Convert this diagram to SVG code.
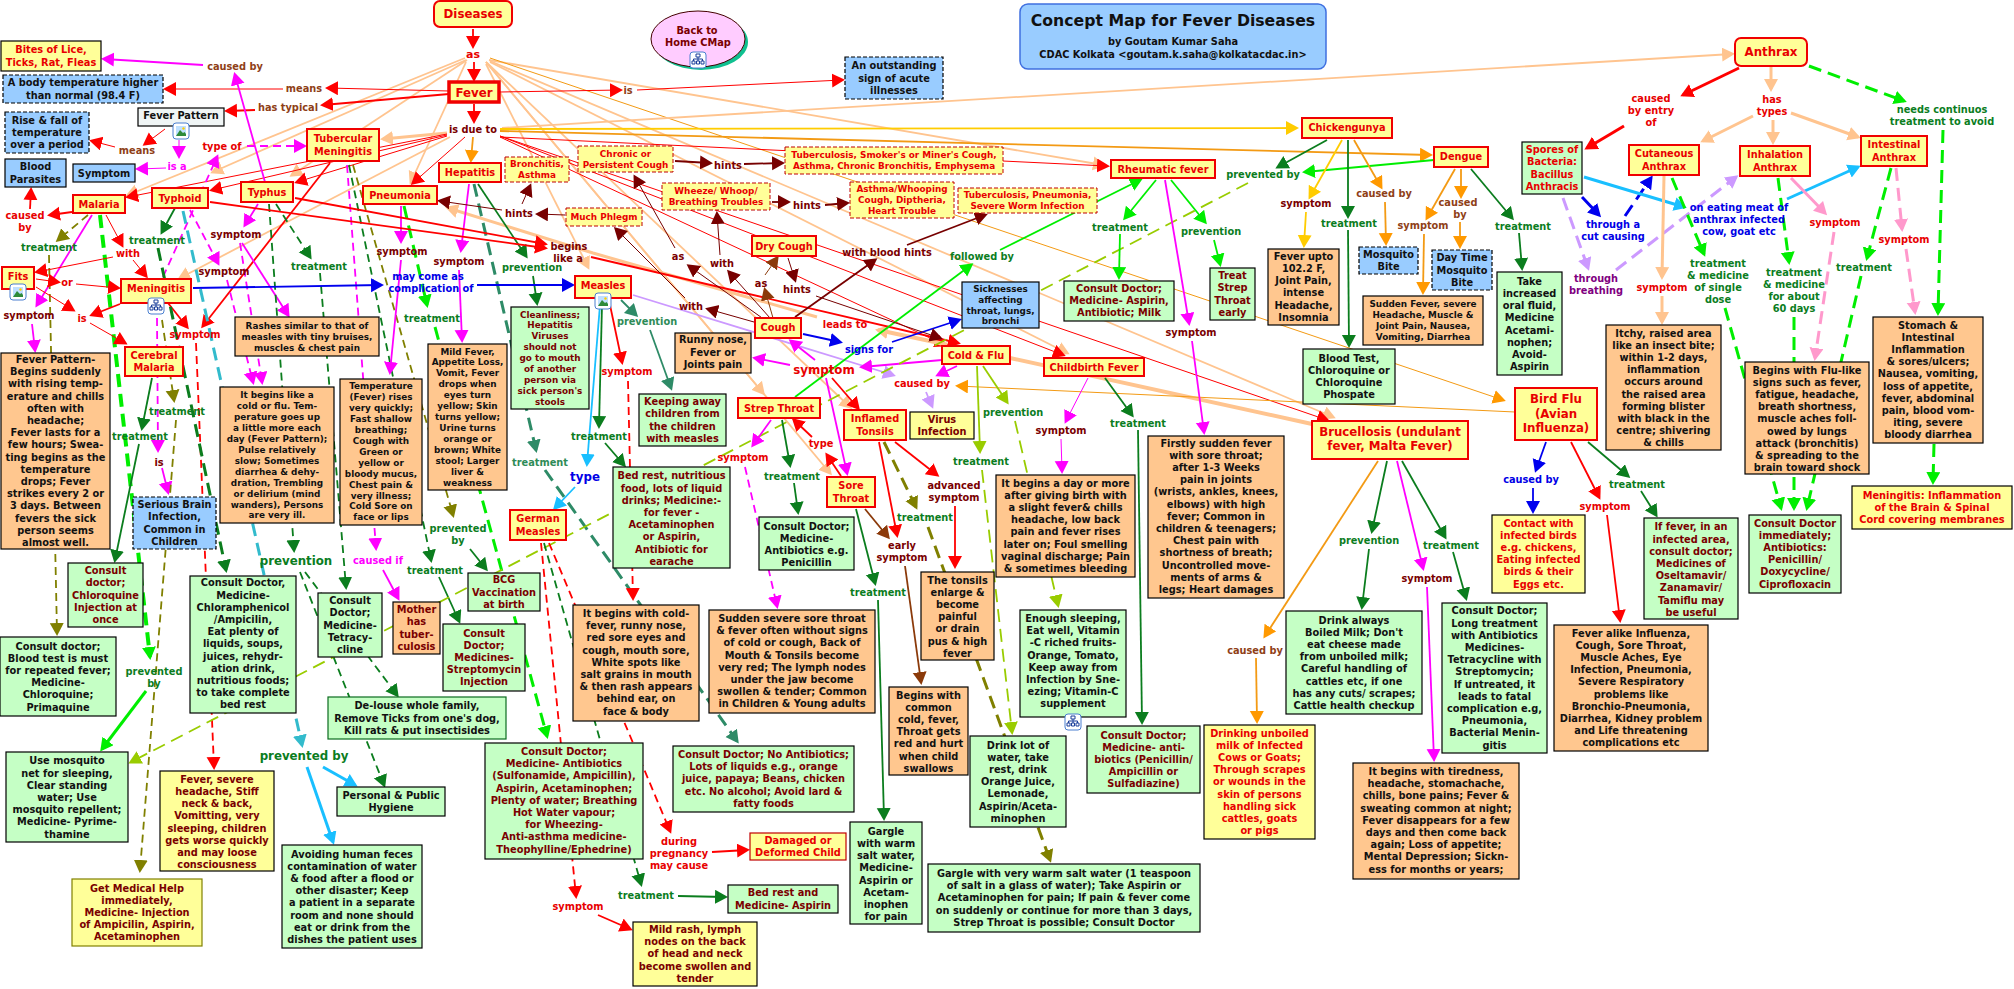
<svg xmlns="http://www.w3.org/2000/svg" width="2014" height="989" viewBox="0 0 2014 989">
<style>
text{font-family:"DejaVu Sans",Verdana,sans-serif;font-weight:bold;font-size:9.8px;text-anchor:middle;fill:#111}
.s{font-size:8.85px}.L{font-size:11.8px}
.k{fill:#111}.m{fill:#7a0000}.r{fill:#e80000}.g{fill:#0b7d1e}.br{fill:#8f3f17}.b{fill:#0000e6}.p{fill:#800080}.v{fill:#f0f}.sg{fill:#2e8b57}
rect{stroke:#000;stroke-width:1.2}
.O{fill:#ffc78f}.G{fill:#c5ffc5}.Y{fill:#ffff99}.B{fill:#99ccff}.dash{stroke-dasharray:4 2}
.C{fill:#ffff99;stroke:#f00000;stroke-width:2}.DR{fill:#ffff99;stroke:#c00000;stroke-width:1;stroke-dasharray:4 2}
#connectors path{fill:none}
.w1{stroke-width:1}.w2{stroke-width:1.8}.w3{stroke-width:3}.w4{stroke-width:4}.d{stroke-dasharray:13 7}.d2{stroke-dasharray:8 5}
.cr{stroke:#f00;marker-end:url(#mr)}.cv{stroke:#f0f;marker-end:url(#mv)}.cl{stroke:#0e0;marker-end:url(#ml)}.cg{stroke:#0b7d1e;marker-end:url(#mg)}
.cs{stroke:#2e8b67;marker-end:url(#ms)}.cp{stroke:#ffc48f;marker-end:url(#mp)}.co{stroke:#f39a14;marker-end:url(#mo)}.cy{stroke:#fc0;marker-end:url(#my)}
.cd{stroke:#700;marker-end:url(#md)}.cn{stroke:#8b3a0a;marker-end:url(#mn)}.cb{stroke:#00e;marker-end:url(#mb)}.cc{stroke:#19bfff;marker-end:url(#mc)}
.ct{stroke:#3bc;marker-end:url(#mt)}.cz{stroke:#808000;marker-end:url(#mz)}.cq{stroke:#9c0;marker-end:url(#mq)}.ci{stroke:#c9f;marker-end:url(#mi)}.ck{stroke:#f9c;marker-end:url(#mk)}
</style>
<defs>
<marker id="mr" markerUnits="userSpaceOnUse" markerWidth="16" markerHeight="16" refX="10" refY="7" orient="auto"><path d="M0 0L13 7L0 14z" fill="#f00"/></marker>
<marker id="mv" markerUnits="userSpaceOnUse" markerWidth="16" markerHeight="16" refX="10" refY="7" orient="auto"><path d="M0 0L13 7L0 14z" fill="#f0f"/></marker>
<marker id="ml" markerUnits="userSpaceOnUse" markerWidth="16" markerHeight="16" refX="10" refY="7" orient="auto"><path d="M0 0L13 7L0 14z" fill="#0e0"/></marker>
<marker id="mg" markerUnits="userSpaceOnUse" markerWidth="16" markerHeight="16" refX="10" refY="7" orient="auto"><path d="M0 0L13 7L0 14z" fill="#0b7d1e"/></marker>
<marker id="ms" markerUnits="userSpaceOnUse" markerWidth="16" markerHeight="16" refX="10" refY="7" orient="auto"><path d="M0 0L13 7L0 14z" fill="#2e8b67"/></marker>
<marker id="mp" markerUnits="userSpaceOnUse" markerWidth="16" markerHeight="16" refX="10" refY="7" orient="auto"><path d="M0 0L13 7L0 14z" fill="#ffc48f"/></marker>
<marker id="mo" markerUnits="userSpaceOnUse" markerWidth="16" markerHeight="16" refX="10" refY="7" orient="auto"><path d="M0 0L13 7L0 14z" fill="#f90"/></marker>
<marker id="my" markerUnits="userSpaceOnUse" markerWidth="16" markerHeight="16" refX="10" refY="7" orient="auto"><path d="M0 0L13 7L0 14z" fill="#fc0"/></marker>
<marker id="md" markerUnits="userSpaceOnUse" markerWidth="16" markerHeight="16" refX="10" refY="7" orient="auto"><path d="M0 0L13 7L0 14z" fill="#700"/></marker>
<marker id="mn" markerUnits="userSpaceOnUse" markerWidth="16" markerHeight="16" refX="10" refY="7" orient="auto"><path d="M0 0L13 7L0 14z" fill="#8b3a0a"/></marker>
<marker id="mb" markerUnits="userSpaceOnUse" markerWidth="16" markerHeight="16" refX="10" refY="7" orient="auto"><path d="M0 0L13 7L0 14z" fill="#00e"/></marker>
<marker id="mc" markerUnits="userSpaceOnUse" markerWidth="16" markerHeight="16" refX="10" refY="7" orient="auto"><path d="M0 0L13 7L0 14z" fill="#19bfff"/></marker>
<marker id="mt" markerUnits="userSpaceOnUse" markerWidth="16" markerHeight="16" refX="10" refY="7" orient="auto"><path d="M0 0L13 7L0 14z" fill="#3bc"/></marker>
<marker id="mz" markerUnits="userSpaceOnUse" markerWidth="16" markerHeight="16" refX="10" refY="7" orient="auto"><path d="M0 0L13 7L0 14z" fill="#808000"/></marker>
<marker id="mq" markerUnits="userSpaceOnUse" markerWidth="16" markerHeight="16" refX="10" refY="7" orient="auto"><path d="M0 0L13 7L0 14z" fill="#9c0"/></marker>
<marker id="mi" markerUnits="userSpaceOnUse" markerWidth="16" markerHeight="16" refX="10" refY="7" orient="auto"><path d="M0 0L13 7L0 14z" fill="#c9f"/></marker>
<marker id="mk" markerUnits="userSpaceOnUse" markerWidth="16" markerHeight="16" refX="10" refY="7" orient="auto"><path d="M0 0L13 7L0 14z" fill="#f9c"/></marker>
<g id="ii"><rect x="-8" y="-8" width="16" height="16" rx="3" fill="#fff" style="stroke:#4a7fd0;stroke-width:1"/><path d="M-5-5H5V5H-5z" fill="#bfe0ff"/><path d="M-5 5L-1-1L2 2L3.5 1L5 3V5z" fill="#2e8b3a"/><circle cx="2.5" cy="-2.5" r="1.2" fill="#fc0"/></g>
<g id="ic"><rect x="-8" y="-8" width="16" height="16" rx="3" fill="#fff" style="stroke:#4a7fd0;stroke-width:1"/><path d="M-2-6H2V-3H-2zM-6 1H-3V4H-6zM-1.500 1H1.500V4H-1.500zM3 1H6V4H3zM-4.500 1V-1H4.500V1M0-3V1" fill="none" stroke="#1b3f9a" stroke-width="1"/></g>
</defs>

<g id="connectors">
<path class="cp w2" d="M489 60L1103 165"/>
<path class="cp w2" d="M490 62L1067 353"/>
<path class="cp w2" d="M490 61L1333 417"/>
<path class="co w1" d="M490 58L1503 400"/>
<path class="cp w2" d="M486 64L588 267"/>
<path class="cp w2" d="M486 62L763 393"/>
<path class="cp w2" d="M486 62L830 473"/>
<path class="cp w2" d="M486 62L850 407"/>
<path class="cp w2" d="M465 58L128 195"/>
<path class="cp w2" d="M466 60L213 172"/>
<path class="cp w2" d="M467 60L292 175"/>
<path class="cp w2" d="M466 62L411 182"/>
<path class="cp w2" d="M502 128L1732 54"/>
<path class="cy w2" d="M500 129L1296 128"/>
<path class="co w2" d="M500 131L1430 155"/>
<path class="cp w3" d="M447 133L383 139"/>
<path class="cp w2" d="M450 137L180 278"/>
<path class="cr w1" d="M447 134L128 197"/>
<path class="cr w1" d="M447 135L212 190"/>
<path class="cr w1" d="M447 136L297 182"/>
<path class="cr w1" d="M465 137L413 183"/>
<path class="co w2" d="M473 137L471 160"/>
<path class="cr w1" d="M500 136L1327 420"/>
<path class="cr w1" d="M500 136L1063 355"/>
<path class="cr w1" d="M500 137L1107 166"/>
<path class="cr w1" d="M500 137L945 345"/>
<path class="cp w4" d="M1312 424L1010 358L878 330"/>
<path class="cp w3" d="M817 317L593 253L448 208"/>
<path class="co w1" d="M1515 412L958 386"/>
<path class="cr w2" d="M473 29L473 46"/>
<path class="cr w2" d="M474 62L474 79"/>
<path class="cr w1" d="M449 91L328 88"/>
<path class="cr w1" d="M283 89L166 89"/>
<path class="cr w2" d="M449 94L323 105"/>
<path class="cr w2" d="M255 110L227 111"/>
<path class="cr w1" d="M500 92L620 90"/>
<path class="cr w1" d="M637 90L842 80"/>
<path class="cr w2" d="M474 104L474 121"/>
<path class="cv w2" d="M265 182L235 75"/>
<path class="cv w2" d="M203 65L104 59"/>
<path class="cr w1" d="M165 129L145 144"/>
<path class="cr w1" d="M115 147L92 141"/>
<path class="cv w1" d="M179 140L179 156"/>
<path class="cv w1" d="M166 168L138 169"/>
<path class="cv w2 d2" d="M163 277L217 157"/>
<path class="cv w2 d2" d="M247 146L304 146"/>
<path class="cr w2" d="M72 212L50 215"/>
<path class="cr w2" d="M30 209L31 190"/>
<path class="cz w2 d2" d="M88 215L58 240"/>
<path class="cz w2 d2" d="M49 255L57 633"/>
<path class="cv w2" d="M92 215L37 305"/>
<path class="cv w2" d="M32 324L35 350"/>
<path class="cl w4 d" d="M100 215L150 657"/>
<path class="cl w3" d="M146 691L102 749"/>
<path class="cr w1" d="M106 215L122 245"/>
<path class="cr w1" d="M113 257L37 272"/>
<path class="cr w1" d="M133 260L146 276"/>
<path class="cr w1" d="M36 279L58 282"/>
<path class="cr w1" d="M76 284L118 288"/>
<path class="cr w1" d="M36 287L73 310"/>
<path class="cr w1" d="M90 323L125 343"/>
<path class="cr w2" d="M120 304L92 315"/>
<path class="cr w2" d="M168 303L187 327"/>
<path class="cr w2" d="M330 163L203 326"/>
<path class="cr w2 d2" d="M196 343L214 767"/>
<path class="cg w2" d="M175 208L162 232"/>
<path class="cg w3 d" d="M158 248L226 570"/>
<path class="ct w3 d" d="M183 211L302 745"/>
<path class="cc w3" d="M323 767L355 785"/>
<path class="cc w3" d="M307 767L333 842"/>
<path class="cv w2 d2" d="M157 318L158 450"/>
<path class="cv w2" d="M162 468L168 492"/>
<path class="cz w2 d2" d="M162 320L174 400"/>
<path class="cz w2 d2" d="M176 420L140 870"/>
<path class="cg w2" d="M152 378L142 428"/>
<path class="cg w2" d="M139 444L115 560"/>
<path class="cv w2 d2" d="M190 210L218 263"/>
<path class="cv w2 d2" d="M227 280L253 382"/>
<path class="cv w2" d="M258 204L245 225"/>
<path class="cv w2 d2" d="M240 243L262 382"/>
<path class="cv w2" d="M242 243L288 315"/>
<path class="cg w2 d2" d="M276 204L310 257"/>
<path class="cg w2 d2" d="M320 273L346 587"/>
<path class="cg w2 d2" d="M269 204L294 550"/>
<path class="cg w2 d2" d="M300 572L384 785"/>
<path class="cg w2 d2" d="M305 572L397 695"/>
<path class="cv w2 d2" d="M347 165L376 548"/>
<path class="cv w2" d="M383 570L398 598"/>
<path class="cg w2 d2" d="M349 165L431 560"/>
<path class="cg w2" d="M439 577L459 621"/>
<path class="cz w2 d2" d="M353 165L453 515"/>
<path class="cg w2" d="M470 549L486 569"/>
<path class="cv w2" d="M401 206L401 241"/>
<path class="cv w2" d="M401 260L390 372"/>
<path class="cl w3 d" d="M404 206L427 305"/>
<path class="cl w3 d" d="M435 327L547 736"/>
<path class="cv w2" d="M469 184L461 250"/>
<path class="cv w2" d="M459 270L462 340"/>
<path class="cs w3 d" d="M474 184L536 450"/>
<path class="cs w3 d" d="M545 470L737 741"/>
<path class="cg w2" d="M478 184L526 256"/>
<path class="cg w2" d="M533 276L537 303"/>
<path class="cb w2" d="M193 288L381 285"/>
<path class="cb w2" d="M477 285L572 285"/>
<path class="cr w2" d="M210 202L545 248"/>
<path class="cr w2" d="M295 198L545 244"/>
<path class="cr w2" d="M591 257L958 343"/>
<path class="cc w2" d="M600 305L587 464"/>
<path class="cc w2" d="M575 487L555 508"/>
<path class="cg w2" d="M602 305L599 426"/>
<path class="cg w2" d="M605 443L624 465"/>
<path class="cr w2" d="M610 305L622 362"/>
<path class="cr w2 d2" d="M628 381L633 598"/>
<path class="cs w2" d="M621 300L636 315"/>
<path class="cs w2" d="M650 330L671 388"/>
<path class="ci w2" d="M633 295L893 375"/>
<path class="ci w2" d="M926 392L932 406"/>
<path class="cv w2" d="M957 366L938 375"/>
<path class="cv w2" d="M942 360L862 367"/>
<path class="cv w2" d="M790 365L755 358"/>
<path class="cv w2" d="M815 360L791 341"/>
<path class="cv w2" d="M826 378L847 473"/>
<path class="cr w2" d="M832 378L858 408"/>
<path class="cb w2" d="M803 334L840 342"/>
<path class="cb w2" d="M892 342L959 320"/>
<path class="cq w2 d" d="M1248 183L131 762"/>
<path class="cg w2" d="M1327 140L1278 167"/>
<path class="cl w2" d="M1434 160L1305 172"/>
<path class="cy w2" d="M1342 140L1310 197"/>
<path class="cy w2" d="M1306 212L1304 245"/>
<path class="cg w2" d="M1348 140L1348 216"/>
<path class="cg w2" d="M1348 230L1349 345"/>
<path class="co w2" d="M1354 140L1381 187"/>
<path class="co w2" d="M1385 202L1386 243"/>
<path class="co w2" d="M1455 169L1427 218"/>
<path class="co w2" d="M1424 234L1423 292"/>
<path class="co w2" d="M1461 169L1461 196"/>
<path class="co w2" d="M1460 222L1460 246"/>
<path class="cg w2" d="M1471 169L1512 218"/>
<path class="cg w2" d="M1519 233L1522 268"/>
<path class="cl w2" d="M1156 180L1125 218"/>
<path class="cl w2" d="M1120 234L1119 277"/>
<path class="cl w2" d="M1171 180L1205 222"/>
<path class="cl w2" d="M1214 240L1220 264"/>
<path class="cv w2" d="M1165 180L1189 323"/>
<path class="cv w2" d="M1192 341L1204 432"/>
<path class="cl w2" d="M1000 250L1140 180"/>
<path class="cl w2" d="M795 397L971 265"/>
<path class="cv w1" d="M1088 378L1066 421"/>
<path class="cv w1" d="M1061 439L1062 471"/>
<path class="cg w2" d="M1105 378L1132 415"/>
<path class="cg w2" d="M1138 430L1142 722"/>
<path class="cq w2" d="M977 366L980 451"/>
<path class="cq w2 d" d="M982 470L1012 732"/>
<path class="cq w2" d="M983 366L1007 402"/>
<path class="cq w2 d" d="M1015 421L1058 605"/>
<path class="cd w1" d="M765 320L689 266"/>
<path class="cd w1" d="M675 248L635 177"/>
<path class="cd w1" d="M770 318L729 272"/>
<path class="cd w1" d="M720 255L717 214"/>
<path class="cn w1" d="M773 318L765 290"/>
<path class="cn w1" d="M765 275L777 258"/>
<path class="cd w1" d="M754 322L708 309"/>
<path class="cd w1" d="M685 298L616 229"/>
<path class="cd w2" d="M795 317L875 260"/>
<path class="cd w2" d="M907 245L985 215"/>
<path class="cd w1" d="M788 258L795 280"/>
<path class="cd w1" d="M816 296L940 338"/>
<path class="cd w2" d="M675 161L710 163"/>
<path class="cd w2" d="M744 164L782 163"/>
<path class="cd w2" d="M772 202L788 202"/>
<path class="cd w2" d="M825 205L847 203"/>
<path class="cd w1" d="M565 215L538 214"/>
<path class="cd w1" d="M522 204L530 186"/>
<path class="cd w1" d="M502 210L440 201"/>
<path class="cv w2" d="M771 420L753 445"/>
<path class="cv w2 d2" d="M745 467L777 606"/>
<path class="cg w2" d="M782 420L790 465"/>
<path class="cg w2" d="M794 483L798 512"/>
<path class="cr w2" d="M841 476L827 455"/>
<path class="cr w2" d="M812 437L794 420"/>
<path class="cg w2" d="M856 509L875 583"/>
<path class="cg w2" d="M878 600L884 818"/>
<path class="cn w2" d="M865 509L888 537"/>
<path class="cn w2" d="M905 566L921 682"/>
<path class="cr w2" d="M879 442L897 535"/>
<path class="cz w3 d" d="M884 442L916 507"/>
<path class="cz w3 d" d="M928 527L1050 860"/>
<path class="cr w2" d="M895 442L937 475"/>
<path class="cr w2" d="M955 506L955 566"/>
<path class="cr w2 d2" d="M541 543L576 896"/>
<path class="cr w2" d="M598 915L630 929"/>
<path class="cg w2 d2" d="M544 543L641 884"/>
<path class="cg w2" d="M678 896L725 897"/>
<path class="cr w2 d2" d="M549 543L670 831"/>
<path class="cr w2" d="M712 852L747 850"/>
<path class="cb w2" d="M1546 442L1536 470"/>
<path class="cb w2" d="M1533 488L1533 511"/>
<path class="cr w2" d="M1571 442L1599 497"/>
<path class="cr w2" d="M1607 515L1620 620"/>
<path class="cg w2" d="M1588 442L1628 476"/>
<path class="cg w2" d="M1641 491L1656 515"/>
<path class="co w2" d="M1378 461L1265 636"/>
<path class="co w2" d="M1256 658L1257 721"/>
<path class="cg w2" d="M1387 461L1372 531"/>
<path class="cg w2" d="M1369 549L1362 607"/>
<path class="cv w2" d="M1397 461L1423 568"/>
<path class="cv w2" d="M1427 587L1434 759"/>
<path class="cg w2" d="M1402 461L1445 537"/>
<path class="cg w2" d="M1453 552L1466 598"/>
<path class="cr w3" d="M1739 68L1683 95"/>
<path class="cr w3" d="M1624 126L1587 148"/>
<path class="cp w3" d="M1771 67L1771 89"/>
<path class="cp w3" d="M1753 116L1703 141"/>
<path class="cp w3" d="M1773 120L1773 142"/>
<path class="cp w3" d="M1791 113L1858 137"/>
<path class="cl w3 d" d="M1809 66L1904 101"/>
<path class="cl w3 d" d="M1943 130L1938 313"/>
<path class="cb w3" d="M1582 197L1599 215"/>
<path class="cb w3 d" d="M1625 216L1651 178"/>
<path class="ci w3 d" d="M1563 198L1588 268"/>
<path class="ci w3 d" d="M1616 270L1736 177"/>
<path class="cc w3" d="M1584 177L1684 207"/>
<path class="cc w3" d="M1787 199L1858 167"/>
<path class="cp w3" d="M1664 176L1662 277"/>
<path class="cp w3" d="M1662 296L1662 322"/>
<path class="cl w3 d" d="M1672 178L1704 254"/>
<path class="cl w3 d" d="M1725 308L1781 508"/>
<path class="cl w3 d" d="M1778 178L1789 262"/>
<path class="cl w3 d" d="M1794 317L1794 508"/>
<path class="ck w3" d="M1791 178L1825 213"/>
<path class="ck w3 d" d="M1834 232L1815 358"/>
<path class="cl w3 d" d="M1891 168L1867 258"/>
<path class="cl w3 d" d="M1861 276L1807 508"/>
<path class="ck w3 d" d="M1896 168L1902 229"/>
<path class="ck w3 d" d="M1906 249L1915 312"/>
<path class="cl w3 d" d="M1934 444L1933 482"/>
</g>

<g id="title"><rect x="1020" y="4" width="306" height="65" rx="8" class="B" style="stroke:#3f6fe0;stroke-width:1.5"/><text x="1173" y="25.500" style="font-size:15.7px">Concept Map for Fever Diseases</text><text x="1173" y="44.500">by  Goutam Kumar Saha</text><text x="1173" y="58">CDAC Kolkata &lt;goutam.k.saha@kolkatacdac.in&gt;</text></g>
<g id="home"><ellipse cx="701" cy="42" rx="47" ry="28" fill="#10c090"/><ellipse cx="698" cy="39" rx="47" ry="28" fill="#ffccff" stroke="#400" stroke-width="1"/><text class="m" x="697" y="33.500">Back to<tspan x="698" dy="12.2">Home CMap</tspan></text><use href="#ic" x="698" y="60"/></g>

<g id="diseases"><rect class="C" x="434" y="1" width="78" height="26" rx="6"/><text class="L r" x="473" y="18">Diseases</text></g>
<g id="fever"><rect class="C" style="stroke-width:3.5" x="449" y="82" width="50" height="20"/><text class="L r" x="474" y="96.500">Fever</text></g>
<g id="bites"><rect class="Y" x="1" y="41" width="100" height="30"/><text class="r" x="51" y="53.400">Bites of Lice,<tspan x="51" dy="12.2">Ticks, Rat, Fleas</tspan></text></g>
<g id="bodytemp"><rect class="B dash" x="3" y="75" width="160" height="28"/><text x="83" y="86.400">A body temperature higher<tspan x="83" dy="12.2">than normal (98.4 F)</tspan></text></g>
<g id="risefall"><rect class="B dash" x="5" y="112" width="84" height="41"/><text x="47" y="123.800">Rise &amp; fall of<tspan x="47" dy="12.2">temperature</tspan><tspan x="47" dy="12.2">over a period</tspan></text></g>
<g id="feverpattern"><rect x="138" y="108" width="86" height="18" fill="#f0f5f5"/><text x="181" y="118.500">Fever Pattern</text><use href="#ii" x="181" y="131"/></g>
<g id="bloodparasites"><rect class="B" x="5" y="159" width="61" height="28"/><text x="35.500" y="170.400">Blood<tspan x="35.500" dy="12.2">Parasites</tspan></text></g>
<g id="symptomc"><rect class="B" x="73" y="164" width="62" height="18"/><text x="104" y="176.500">Symptom</text></g>
<g id="outstanding"><rect class="B dash" x="845" y="57" width="98" height="42"/><text x="894" y="69.300">An outstanding<tspan x="894" dy="12.2">sign of acute</tspan><tspan x="894" dy="12.2">illnesses</tspan></text></g>
<g id="tubercular"><rect class="C" x="307" y="129" width="72" height="32"/><text class="r" x="343" y="142.400">Tubercular<tspan x="343" dy="12.2">Meningitis</tspan></text></g>
<g id="hepatitis"><rect class="C" x="439" y="163" width="62" height="19"/><text class="r" x="470" y="176">Hepatitis</text></g>
<g id="malaria"><rect class="C" x="73" y="195" width="52" height="18"/><text class="r" x="99" y="207.500">Malaria</text></g>
<g id="typhoid"><rect class="C" x="152" y="188" width="56" height="20"/><text class="r" x="180" y="201.500">Typhoid</text></g>
<g id="typhus"><rect class="C" x="241" y="182" width="52" height="20"/><text class="r" x="267" y="195.500">Typhus</text></g>
<g id="pneumonia"><rect class="C" x="363" y="186" width="74" height="18"/><text class="r" x="400" y="198.500">Pneumonia</text></g>
<g id="fits"><rect class="C" x="2" y="267" width="32" height="22"/><text class="r" x="18" y="279.500">Fits</text><use href="#ii" x="18" y="292"/></g>
<g id="meningitis"><rect class="C" x="121" y="279" width="70" height="24"/><text class="r" x="156" y="291.500">Meningitis</text><use href="#ic" x="156" y="306"/></g>
<g id="cerebral"><rect class="C" x="125" y="347" width="58" height="29"/><text class="r" x="154" y="358.900">Cerebral<tspan x="154" dy="12.2">Malaria</tspan></text></g>
<g id="measles"><rect class="C" x="575" y="276" width="56" height="22"/><text class="r" x="603" y="288.500">Measles</text><use href="#ii" x="603" y="301"/></g>
<g id="cough"><rect class="C" x="755" y="318" width="46" height="20"/><text class="r" x="778" y="330.500">Cough</text></g>
<g id="drycough"><rect class="C" x="752" y="236" width="64" height="20"/><text class="r" x="784" y="249.500">Dry Cough</text></g>
<g id="strep"><rect class="C" x="738" y="398" width="82" height="20"/><text class="r" x="779" y="411.500">Strep Throat</text></g>
<g id="inflamed"><rect class="C" x="844" y="410" width="62" height="30"/><text class="r" x="875" y="422.400">Inflamed<tspan x="875" dy="12.2">Tonsils</tspan></text></g>
<g id="coldflu"><rect class="C" x="942" y="346" width="68" height="18"/><text class="r" x="976" y="358.500">Cold &amp; Flu</text></g>
<g id="sore"><rect class="C" x="827" y="477" width="48" height="30"/><text class="r" x="851" y="489.400">Sore<tspan x="851" dy="12.2">Throat</tspan></text></g>
<g id="german"><rect class="C" x="510" y="510" width="56" height="30"/><text class="r" x="538" y="522.400">German<tspan x="538" dy="12.2">Measles</tspan></text></g>
<g id="childbirth"><rect class="C" x="1044" y="358" width="100" height="18"/><text class="r" x="1094" y="370.500">Childbirth Fever</text></g>
<g id="rheumatic"><rect class="C" x="1111" y="160" width="104" height="18"/><text class="r" x="1163" y="172.500">Rheumatic fever</text></g>
<g id="chickengunya"><rect class="C" x="1302" y="118" width="90" height="20"/><text class="r" x="1347" y="130.500">Chickengunya</text></g>
<g id="dengue"><rect class="C" x="1434" y="147" width="54" height="20"/><text class="r" x="1461" y="159.500">Dengue</text></g>
<g id="brucellosis"><rect class="C" x="1312" y="421" width="156" height="38"/><text class="L r" x="1390" y="435.500">Brucellosis (undulant<tspan x="1390" dy="14.6">fever, Malta Fever)</tspan></text></g>
<g id="birdflu"><rect class="C" x="1515" y="388" width="82" height="52"/><text class="L r" x="1556" y="403">Bird Flu<tspan x="1556" dy="14.6">(Avian</tspan><tspan x="1556" dy="14.6">Influenza)</tspan></text></g>
<g id="anthrax"><rect class="C" x="1735" y="38" width="72" height="28" rx="6"/><text class="L r" x="1771" y="56">Anthrax</text></g>
<g id="cutaneous"><rect class="C" x="1629" y="145" width="70" height="30"/><text class="r" x="1664" y="157.400">Cutaneous<tspan x="1664" dy="12.2">Anthrax</tspan></text></g>
<g id="inhalation"><rect class="C" x="1740" y="146" width="70" height="30"/><text class="r" x="1775" y="158.400">Inhalation<tspan x="1775" dy="12.2">Anthrax</tspan></text></g>
<g id="intestinal"><rect class="C" x="1861" y="136" width="66" height="30"/><text class="r" x="1894" y="148.400">Intestinal<tspan x="1894" dy="12.2">Anthrax</tspan></text></g>

<g id="bronchitis"><rect class="DR" x="505" y="157" width="64" height="25"/><text class="s r" x="537" y="167.200">Bronchitis,<tspan x="537" dy="10.95">Asthma</tspan></text></g>
<g id="chronic"><rect class="DR" x="578" y="146" width="95" height="26"/><text class="s r" x="625.500" y="156.700">Chronic or<tspan x="625.500" dy="10.95">Persistent Cough</tspan></text></g>
<g id="tbsmoker"><rect class="DR" x="785" y="147" width="218" height="27"/><text class="s r" x="894" y="158.200">Tuberculosis, Smoker's or Miner's Cough,<tspan x="894" dy="10.95">Asthma, Chronic Bronchitis, Emphysema</tspan></text></g>
<g id="wheeze"><rect class="DR" x="662" y="183" width="108" height="27"/><text class="s r" x="716" y="194.200">Wheeze/ Whoop/<tspan x="716" dy="10.95">Breathing Troubles</tspan></text></g>
<g id="asthma"><rect class="DR" x="850" y="182" width="104" height="36"/><text class="s r" x="902" y="192.300">Asthma/Whooping<tspan x="902" dy="10.95">Cough, Diptheria,</tspan><tspan x="902" dy="10.95">Heart Trouble</tspan></text></g>
<g id="tbpneu"><rect class="DR" x="958" y="188" width="139" height="25"/><text class="s r" x="1027.500" y="198.200">Tuberculosis, Pneumonia,<tspan x="1027.500" dy="10.95">Severe Worm Infection</tspan></text></g>
<g id="phlegm"><rect class="DR" x="566" y="208" width="76" height="18"/><text class="s r" x="604" y="220.200">Much Phlegm</text></g>

<g id="sickness"><rect class="B" x="962" y="282" width="77" height="46"/><text class="s" x="1000.500" y="291.600">Sicknesses<tspan x="1000.500" dy="10.95">affecting</tspan><tspan x="1000.500" dy="10.95">throat, lungs,</tspan><tspan x="1000.500" dy="10.95">bronchi</tspan></text></g>
<g id="mosquito"><rect class="B dash" x="1359" y="247" width="59" height="27"/><text x="1388.500" y="257.900">Mosquito<tspan x="1388.500" dy="12.2">Bite</tspan></text></g>
<g id="daytime"><rect class="B dash" x="1432" y="250" width="60" height="40"/><text x="1462" y="261.300">Day Time<tspan x="1462" dy="12.2">Mosquito</tspan><tspan x="1462" dy="12.2">Bite</tspan></text></g>
<g id="serious"><rect class="B dash" x="133" y="497" width="83" height="52"/><text x="174.500" y="508.200">Serious Brain<tspan x="174.500" dy="12.2">Infection,</tspan><tspan x="174.500" dy="12.2">Common in</tspan><tspan x="174.500" dy="12.2">Children</tspan></text></g>

<g id="feverpatternbox"><rect class="O" x="1" y="353" width="109" height="196"/><text x="55.500" y="363">Fever Pattern-<tspan x="55.500" dy="12.2">Begins suddenly</tspan><tspan x="55.500" dy="12.2">with rising temp-</tspan><tspan x="55.500" dy="12.2">erature and chills</tspan><tspan x="55.500" dy="12.2">often with</tspan><tspan x="55.500" dy="12.2">headache;</tspan><tspan x="55.500" dy="12.2">Fever lasts for a</tspan><tspan x="55.500" dy="12.2">few hours; Swea-</tspan><tspan x="55.500" dy="12.2">ting begins as the</tspan><tspan x="55.500" dy="12.2">temperature</tspan><tspan x="55.500" dy="12.2">drops; Fever</tspan><tspan x="55.500" dy="12.2">strikes every 2 or</tspan><tspan x="55.500" dy="12.2">3 days. Between</tspan><tspan x="55.500" dy="12.2">fevers the sick</tspan><tspan x="55.500" dy="12.2">person seems</tspan><tspan x="55.500" dy="12.2">almost well.</tspan></text></g>
<g id="rashes"><rect class="O" x="235" y="317" width="144" height="39"/><text class="s" x="307" y="329">Rashes similar to that of<tspan x="307" dy="10.95">measles with tiny bruises,</tspan><tspan x="307" dy="10.95">muscles &amp; chest pain</tspan></text></g>
<g id="coldlike"><rect class="O" x="220" y="387" width="114" height="136"/><text class="s" x="277" y="398">It begins like a<tspan x="277" dy="10.95">cold or flu. Tem-</tspan><tspan x="277" dy="10.95">perature goes up</tspan><tspan x="277" dy="10.95">a little more each</tspan><tspan x="277" dy="10.95">day (Fever Pattern);</tspan><tspan x="277" dy="10.95">Pulse relatively</tspan><tspan x="277" dy="10.95">slow; Sometimes</tspan><tspan x="277" dy="10.95">diarrhea &amp; dehy-</tspan><tspan x="277" dy="10.95">dration, Trembling</tspan><tspan x="277" dy="10.95">or delirium (mind</tspan><tspan x="277" dy="10.95">wanders), Persons</tspan><tspan x="277" dy="10.95">are very ill.</tspan></text></g>
<g id="temperature"><rect class="O" x="340" y="379" width="82" height="146"/><text class="s" x="381" y="389">Temperature<tspan x="381" dy="10.95">(Fever) rises</tspan><tspan x="381" dy="10.95">very quickly;</tspan><tspan x="381" dy="10.95">Fast shallow</tspan><tspan x="381" dy="10.95">breathing;</tspan><tspan x="381" dy="10.95">Cough with</tspan><tspan x="381" dy="10.95">Green or</tspan><tspan x="381" dy="10.95">yellow or</tspan><tspan x="381" dy="10.95">bloody mucus,</tspan><tspan x="381" dy="10.95">Chest pain &amp;</tspan><tspan x="381" dy="10.95">very illness;</tspan><tspan x="381" dy="10.95">Cold Sore on</tspan><tspan x="381" dy="10.95">face or lips</tspan></text></g>
<g id="mildfever"><rect class="O" x="428" y="344" width="79" height="146"/><text class="s" x="467.500" y="354.500">Mild Fever,<tspan x="467.500" dy="10.95">Appetite Loss,</tspan><tspan x="467.500" dy="10.95">Vomit, Fever</tspan><tspan x="467.500" dy="10.95">drops when</tspan><tspan x="467.500" dy="10.95">eyes turn</tspan><tspan x="467.500" dy="10.95">yellow; Skin</tspan><tspan x="467.500" dy="10.95">turns yellow;</tspan><tspan x="467.500" dy="10.95">Urine turns</tspan><tspan x="467.500" dy="10.95">orange or</tspan><tspan x="467.500" dy="10.95">brown; White</tspan><tspan x="467.500" dy="10.95">stool; Larger</tspan><tspan x="467.500" dy="10.95">liver &amp;</tspan><tspan x="467.500" dy="10.95">weakness</tspan></text></g>
<g id="runny"><rect class="O" x="675" y="333" width="76" height="40"/><text x="713" y="343.300">Runny nose,<tspan x="713" dy="12.2">Fever or</tspan><tspan x="713" dy="12.2">Joints pain</tspan></text></g>
<g id="mother"><rect class="O" x="393" y="602" width="47" height="52"/><text class="m" x="416.500" y="613.200">Mother<tspan x="416.500" dy="12.2">has</tspan><tspan x="416.500" dy="12.2">tuber-</tspan><tspan x="416.500" dy="12.2">culosis</tspan></text></g>
<g id="coldfeverbox"><rect class="O" x="573" y="605" width="126" height="116"/><text x="636" y="617">It begins with cold-<tspan x="636" dy="12.2">fever, runny nose,</tspan><tspan x="636" dy="12.2">red sore eyes and</tspan><tspan x="636" dy="12.2">cough, mouth sore,</tspan><tspan x="636" dy="12.2">White spots like</tspan><tspan x="636" dy="12.2">salt grains in mouth</tspan><tspan x="636" dy="12.2">&amp; then rash appears</tspan><tspan x="636" dy="12.2">behind ear, on</tspan><tspan x="636" dy="12.2">face &amp; body</tspan></text></g>
<g id="suddensevere"><rect class="O" x="709" y="610" width="166" height="103"/><text x="792" y="622">Sudden severe sore throat<tspan x="792" dy="12.2">&amp; fever often without signs</tspan><tspan x="792" dy="12.2">of cold or cough, Back of</tspan><tspan x="792" dy="12.2">Mouth &amp; Tonsils become</tspan><tspan x="792" dy="12.2">very red; The lymph nodes</tspan><tspan x="792" dy="12.2">under the jaw become</tspan><tspan x="792" dy="12.2">swollen &amp; tender; Common</tspan><tspan x="792" dy="12.2">in Children &amp; Young adults</tspan></text></g>
<g id="tonsils"><rect class="O" x="921" y="572" width="73" height="88"/><text x="957.500" y="583.500">The tonsils<tspan x="957.500" dy="12.2">enlarge &amp;</tspan><tspan x="957.500" dy="12.2">become</tspan><tspan x="957.500" dy="12.2">painful</tspan><tspan x="957.500" dy="12.2">or drain</tspan><tspan x="957.500" dy="12.2">pus &amp; high</tspan><tspan x="957.500" dy="12.2">fever</tspan></text></g>
<g id="beginsday"><rect class="O" x="996" y="475" width="139" height="102"/><text x="1065.500" y="486.500">It begins a day or more<tspan x="1065.500" dy="12.2">after giving birth with</tspan><tspan x="1065.500" dy="12.2">a slight fever&amp; chills</tspan><tspan x="1065.500" dy="12.2">headache, low back</tspan><tspan x="1065.500" dy="12.2">pain and fever rises</tspan><tspan x="1065.500" dy="12.2">later on; Foul smelling</tspan><tspan x="1065.500" dy="12.2">vaginal discharge; Pain</tspan><tspan x="1065.500" dy="12.2">&amp; sometimes bleeding</tspan></text></g>
<g id="beginscommon"><rect class="O" x="889" y="687" width="79" height="88"/><text x="928.500" y="698.500">Begins with<tspan x="928.500" dy="12.2">common</tspan><tspan x="928.500" dy="12.2">cold, fever,</tspan><tspan x="928.500" dy="12.2">Throat gets</tspan><tspan x="928.500" dy="12.2">red and hurt</tspan><tspan x="928.500" dy="12.2">when child</tspan><tspan x="928.500" dy="12.2">swallows</tspan></text></g>
<g id="feverupto"><rect class="O" x="1268" y="249" width="71" height="76"/><text x="1303.500" y="259.800">Fever upto<tspan x="1303.500" dy="12.2">102.2 F,</tspan><tspan x="1303.500" dy="12.2">Joint Pain,</tspan><tspan x="1303.500" dy="12.2">intense</tspan><tspan x="1303.500" dy="12.2">Headache,</tspan><tspan x="1303.500" dy="12.2">Insomnia</tspan></text></g>
<g id="suddenfever"><rect class="O" x="1363" y="296" width="120" height="49"/><text class="s" x="1423" y="307.300">Sudden Fever, severe<tspan x="1423" dy="10.95">Headache, Muscle &amp;</tspan><tspan x="1423" dy="10.95">Joint Pain, Nausea,</tspan><tspan x="1423" dy="10.95">Vomiting, Diarrhea</tspan></text></g>
<g id="firstly"><rect class="O" x="1148" y="436" width="136" height="162"/><text x="1216" y="446.600">Firstly sudden fever<tspan x="1216" dy="12.2">with sore throat;</tspan><tspan x="1216" dy="12.2">after 1-3 Weeks</tspan><tspan x="1216" dy="12.2">pain in joints</tspan><tspan x="1216" dy="12.2">(wrists, ankles, knees,</tspan><tspan x="1216" dy="12.2">elbows) with high</tspan><tspan x="1216" dy="12.2">fever; Common in</tspan><tspan x="1216" dy="12.2">children &amp; teenagers;</tspan><tspan x="1216" dy="12.2">Chest pain with</tspan><tspan x="1216" dy="12.2">shortness of breath;</tspan><tspan x="1216" dy="12.2">Uncontrolled move-</tspan><tspan x="1216" dy="12.2">ments of arms &amp;</tspan><tspan x="1216" dy="12.2">legs; Heart damages</tspan></text></g>
<g id="itchy"><rect class="O" x="1606" y="325" width="115" height="125"/><text x="1663.500" y="336.500">Itchy, raised area<tspan x="1663.500" dy="12.2">like an insect bite;</tspan><tspan x="1663.500" dy="12.2">within 1-2 days,</tspan><tspan x="1663.500" dy="12.2">inflammation</tspan><tspan x="1663.500" dy="12.2">occurs around</tspan><tspan x="1663.500" dy="12.2">the raised area</tspan><tspan x="1663.500" dy="12.2">forming blister</tspan><tspan x="1663.500" dy="12.2">with black in the</tspan><tspan x="1663.500" dy="12.2">centre; shivering</tspan><tspan x="1663.500" dy="12.2">&amp; chills</tspan></text></g>
<g id="stomach"><rect class="O" x="1873" y="317" width="110" height="126"/><text x="1928" y="328.500">Stomach &amp;<tspan x="1928" dy="12.2">Intestinal</tspan><tspan x="1928" dy="12.2">Inflammation</tspan><tspan x="1928" dy="12.2">&amp; sores/ulcers;</tspan><tspan x="1928" dy="12.2">Nausea, vomiting,</tspan><tspan x="1928" dy="12.2">loss of appetite,</tspan><tspan x="1928" dy="12.2">fever, abdominal</tspan><tspan x="1928" dy="12.2">pain, blood vom-</tspan><tspan x="1928" dy="12.2">iting, severe</tspan><tspan x="1928" dy="12.2">bloody diarrhea</tspan></text></g>
<g id="fluflike"><rect class="O" x="1745" y="362" width="124" height="112"/><text x="1807" y="373.500">Begins with Flu-like<tspan x="1807" dy="12.2">signs such as fever,</tspan><tspan x="1807" dy="12.2">fatigue, headache,</tspan><tspan x="1807" dy="12.2">breath shortness,</tspan><tspan x="1807" dy="12.2">muscle aches foll-</tspan><tspan x="1807" dy="12.2">owed by lungs</tspan><tspan x="1807" dy="12.2">attack (bronchitis)</tspan><tspan x="1807" dy="12.2">&amp; spreading to the</tspan><tspan x="1807" dy="12.2">brain toward shock</tspan></text></g>
<g id="feveralike"><rect class="O" x="1554" y="625" width="154" height="126"/><text x="1631" y="636.500">Fever alike Influenza,<tspan x="1631" dy="12.2">Cough, Sore Throat,</tspan><tspan x="1631" dy="12.2">Muscle Aches, Eye</tspan><tspan x="1631" dy="12.2">Infection, Pneumonia,</tspan><tspan x="1631" dy="12.2">Severe Respiratory</tspan><tspan x="1631" dy="12.2">problems like</tspan><tspan x="1631" dy="12.2">Bronchio-Pneumonia,</tspan><tspan x="1631" dy="12.2">Diarrhea, Kidney problem</tspan><tspan x="1631" dy="12.2">and Life threatening</tspan><tspan x="1631" dy="12.2">complications etc</tspan></text></g>
<g id="tiredness"><rect class="O" x="1353" y="763" width="166" height="116"/><text x="1436" y="775">It begins with tiredness,<tspan x="1436" dy="12.2">headache, stomachache,</tspan><tspan x="1436" dy="12.2">chills, bone pains; Fever &amp;</tspan><tspan x="1436" dy="12.2">sweating common at night;</tspan><tspan x="1436" dy="12.2">Fever disappears for a few</tspan><tspan x="1436" dy="12.2">days and then come back</tspan><tspan x="1436" dy="12.2">again; Loss of appetite;</tspan><tspan x="1436" dy="12.2">Mental Depression; Sickn-</tspan><tspan x="1436" dy="12.2">ess for months or years;</tspan></text></g>

<g id="cleanliness"><rect class="G" x="511" y="307" width="78" height="102"/><text class="s m" x="550" y="317.500">Cleanliness;<tspan x="550" dy="10.95">Hepatitis</tspan><tspan x="550" dy="10.95">Viruses</tspan><tspan x="550" dy="10.95">should not</tspan><tspan x="550" dy="10.95">go to mouth</tspan><tspan x="550" dy="10.95">of another</tspan><tspan x="550" dy="10.95">person via</tspan><tspan x="550" dy="10.95">sick person's</tspan><tspan x="550" dy="10.95">stools</tspan></text></g>
<g id="keeping"><rect class="G" x="639" y="394" width="87" height="52"/><text class="m" x="682.500" y="405.200">Keeping away<tspan x="682.500" dy="12.2">children from</tspan><tspan x="682.500" dy="12.2">the children</tspan><tspan x="682.500" dy="12.2">with measles</tspan></text></g>
<g id="bedrest"><rect class="G" x="613" y="467" width="117" height="101"/><text class="m" x="671.500" y="479.300">Bed rest, nutritious<tspan x="671.500" dy="12.2">food, lots of liquid</tspan><tspan x="671.500" dy="12.2">drinks; Medicine:-</tspan><tspan x="671.500" dy="12.2">for fever -</tspan><tspan x="671.500" dy="12.2">Acetaminophen</tspan><tspan x="671.500" dy="12.2">or Aspirin,</tspan><tspan x="671.500" dy="12.2">Antibiotic for</tspan><tspan x="671.500" dy="12.2">earache</tspan></text></g>
<g id="penicillin"><rect class="G" x="759" y="517" width="95" height="53"/><text x="806.500" y="529.700">Consult Doctor;<tspan x="806.500" dy="12.2">Medicine-</tspan><tspan x="806.500" dy="12.2">Antibiotics e.g.</tspan><tspan x="806.500" dy="12.2">Penicillin</tspan></text></g>
<g id="aspirinmilk"><rect class="G" x="1064" y="281" width="110" height="40"/><text class="m" x="1119" y="291.800">Consult Doctor;<tspan x="1119" dy="12.2">Medicine- Aspirin,</tspan><tspan x="1119" dy="12.2">Antibiotic; Milk</tspan></text></g>
<g id="treatstrep"><rect class="G" x="1210" y="268" width="45" height="52"/><text class="m" x="1232.500" y="279.200">Treat<tspan x="1232.500" dy="12.2">Strep</tspan><tspan x="1232.500" dy="12.2">Throat</tspan><tspan x="1232.500" dy="12.2">early</tspan></text></g>
<g id="takeoral"><rect class="G" x="1497" y="272" width="65" height="103"/><text x="1529.500" y="284.800">Take<tspan x="1529.500" dy="12.2">increased</tspan><tspan x="1529.500" dy="12.2">oral fluid,</tspan><tspan x="1529.500" dy="12.2">Medicine</tspan><tspan x="1529.500" dy="12.2">Acetami-</tspan><tspan x="1529.500" dy="12.2">nophen;</tspan><tspan x="1529.500" dy="12.2">Avoid-</tspan><tspan x="1529.500" dy="12.2">Aspirin</tspan></text></g>
<g id="bloodtest"><rect class="G" x="1303" y="349" width="92" height="55"/><text x="1349" y="361.700">Blood Test,<tspan x="1349" dy="12.2">Chloroquine or</tspan><tspan x="1349" dy="12.2">Chloroquine</tspan><tspan x="1349" dy="12.2">Phospate</tspan></text></g>
<g id="enough"><rect class="G" x="1020" y="610" width="106" height="107"/><text x="1073" y="622">Enough sleeping,<tspan x="1073" dy="12.2">Eat well, Vitamin</tspan><tspan x="1073" dy="12.2">-C riched fruits-</tspan><tspan x="1073" dy="12.2">Orange, Tomato,</tspan><tspan x="1073" dy="12.2">Keep away from</tspan><tspan x="1073" dy="12.2">Infection by Sne-</tspan><tspan x="1073" dy="12.2">ezing; Vitamin-C</tspan><tspan x="1073" dy="12.2">supplement</tspan></text><use href="#ic" x="1073" y="722"/></g>
<g id="drinkalways"><rect class="G" x="1286" y="611" width="136" height="103"/><text x="1354" y="623.500">Drink always<tspan x="1354" dy="12.2">Boiled Milk; Don't</tspan><tspan x="1354" dy="12.2">eat cheese made</tspan><tspan x="1354" dy="12.2">from unboiled milk;</tspan><tspan x="1354" dy="12.2">Careful handling of</tspan><tspan x="1354" dy="12.2">cattles etc, if one</tspan><tspan x="1354" dy="12.2">has any cuts/ scrapes;</tspan><tspan x="1354" dy="12.2">Cattle health checkup</tspan></text></g>
<g id="longtreat"><rect class="G" x="1442" y="603" width="105" height="150"/><text x="1494.500" y="614.400">Consult Doctor;<tspan x="1494.500" dy="12.2">Long treatment</tspan><tspan x="1494.500" dy="12.2">with Antibiotics</tspan><tspan x="1494.500" dy="12.2">Medicines-</tspan><tspan x="1494.500" dy="12.2">Tetracycline with</tspan><tspan x="1494.500" dy="12.2">Streptomycin;</tspan><tspan x="1494.500" dy="12.2">If untreated, it</tspan><tspan x="1494.500" dy="12.2">leads to fatal</tspan><tspan x="1494.500" dy="12.2">complication e.g,</tspan><tspan x="1494.500" dy="12.2">Pneumonia,</tspan><tspan x="1494.500" dy="12.2">Bacterial Menin-</tspan><tspan x="1494.500" dy="12.2">gitis</tspan></text></g>
<g id="immediately"><rect class="G" x="1749" y="515" width="92" height="78"/><text class="m" x="1795" y="526.500">Consult Doctor<tspan x="1795" dy="12.2">immediately;</tspan><tspan x="1795" dy="12.2">Antibiotics:</tspan><tspan x="1795" dy="12.2">Penicillin/</tspan><tspan x="1795" dy="12.2">Doxycycline/</tspan><tspan x="1795" dy="12.2">Ciprofloxacin</tspan></text></g>
<g id="iffever"><rect class="G" x="1644" y="518" width="94" height="101"/><text class="m" x="1691" y="530.300">If fever, in an<tspan x="1691" dy="12.2">infected area,</tspan><tspan x="1691" dy="12.2">consult doctor;</tspan><tspan x="1691" dy="12.2">Medicines of</tspan><tspan x="1691" dy="12.2">Oseltamavir/</tspan><tspan x="1691" dy="12.2">Zanamavir/</tspan><tspan x="1691" dy="12.2">Tamiflu may</tspan><tspan x="1691" dy="12.2">be useful</tspan></text></g>
<g id="sulfadiazine"><rect class="G" x="1087" y="726" width="113" height="67"/><text class="m" x="1143.500" y="738.600">Consult Doctor;<tspan x="1143.500" dy="12.2">Medicine- anti-</tspan><tspan x="1143.500" dy="12.2">biotics (Penicillin/</tspan><tspan x="1143.500" dy="12.2">Ampicillin or</tspan><tspan x="1143.500" dy="12.2">Sulfadiazine)</tspan></text></g>
<g id="garglewarm"><rect class="G" x="928" y="864" width="272" height="68"/><text x="1064" y="877">Gargle with very warm salt water (1 teaspoon<tspan x="1064" dy="12.2">of salt in a glass of water); Take Aspirin or</tspan><tspan x="1064" dy="12.2">Acetaminophen for pain; If pain &amp; fever come</tspan><tspan x="1064" dy="12.2">on suddenly or continue for more than 3 days,</tspan><tspan x="1064" dy="12.2">Strep Throat is possible; Consult Doctor</tspan></text></g>
<g id="drinklot"><rect class="G" x="970" y="736" width="96" height="91"/><text x="1018" y="748.500">Drink lot of<tspan x="1018" dy="12.2">water, take</tspan><tspan x="1018" dy="12.2">rest,  drink</tspan><tspan x="1018" dy="12.2">Orange Juice,</tspan><tspan x="1018" dy="12.2">Lemonade,</tspan><tspan x="1018" dy="12.2">Aspirin/Aceta-</tspan><tspan x="1018" dy="12.2">minophen</tspan></text></g>
<g id="gargle"><rect class="G" x="850" y="822" width="72" height="102"/><text x="886" y="834.800">Gargle<tspan x="886" dy="12.2">with warm</tspan><tspan x="886" dy="12.2">salt water,</tspan><tspan x="886" dy="12.2">Medicine-</tspan><tspan x="886" dy="12.2">Aspirin or</tspan><tspan x="886" dy="12.2">Acetam-</tspan><tspan x="886" dy="12.2">inophen</tspan><tspan x="886" dy="12.2">for pain</tspan></text></g>
<g id="bedaspirin"><rect class="G" x="728" y="885" width="110" height="28"/><text class="m" x="783" y="896.400">Bed rest and<tspan x="783" dy="12.2">Medicine- Aspirin</tspan></text></g>
<g id="noantibiotics"><rect class="G" x="673" y="746" width="181" height="66"/><text class="m" x="763.500" y="758">Consult Doctor; No Antibiotics;<tspan x="763.500" dy="12.2">Lots of liquids e.g., orange</tspan><tspan x="763.500" dy="12.2">juice, papaya; Beans, chicken</tspan><tspan x="763.500" dy="12.2">etc. No alcohol; Avoid lard &amp;</tspan><tspan x="763.500" dy="12.2">fatty foods</tspan></text></g>
<g id="sulfonamide"><rect class="G" x="485" y="743" width="158" height="116"/><text class="m" x="564" y="755">Consult Doctor;<tspan x="564" dy="12.2">Medicine- Antibiotics</tspan><tspan x="564" dy="12.2">(Sulfonamide, Ampicillin),</tspan><tspan x="564" dy="12.2">Aspirin, Acetaminophen;</tspan><tspan x="564" dy="12.2">Plenty of water; Breathing</tspan><tspan x="564" dy="12.2">Hot Water vapour;</tspan><tspan x="564" dy="12.2">for Wheezing-</tspan><tspan x="564" dy="12.2">Anti-asthma medicine-</tspan><tspan x="564" dy="12.2">Theophylline/Ephedrine)</tspan></text></g>
<g id="usenet"><rect class="G" x="6" y="752" width="122" height="90"/><text x="67" y="764.400">Use mosquito<tspan x="67" dy="12.2">net for sleeping,</tspan><tspan x="67" dy="12.2">Clear standing</tspan><tspan x="67" dy="12.2">water; Use</tspan><tspan x="67" dy="12.2">mosquito repellent;</tspan><tspan x="67" dy="12.2">Medicine- Pyrime-</tspan><tspan x="67" dy="12.2">thamine</tspan></text></g>
<g id="avoiding"><rect class="G" x="282" y="845" width="140" height="103"/><text x="352" y="857.500">Avoiding human feces<tspan x="352" dy="12.2">contamination of water</tspan><tspan x="352" dy="12.2">&amp; food after a flood or</tspan><tspan x="352" dy="12.2">other disaster; Keep</tspan><tspan x="352" dy="12.2">a patient in a separate</tspan><tspan x="352" dy="12.2">room and none should</tspan><tspan x="352" dy="12.2">eat or drink from the</tspan><tspan x="352" dy="12.2">dishes the patient uses</tspan></text></g>
<g id="personal"><rect class="G" x="337" y="787" width="108" height="29"/><text x="391" y="798.900">Personal &amp; Public<tspan x="391" dy="12.2">Hygiene</tspan></text></g>
<g id="delouse"><rect class="G" style="stroke:#0b6b1e" x="328" y="697" width="178" height="42"/><text x="417" y="709.300">De-louse whole family,<tspan x="417" dy="12.2">Remove Ticks from one's dog,</tspan><tspan x="417" dy="12.2">Kill rats &amp; put insectisides</tspan></text></g>
<g id="consultblood"><rect class="G" x="0" y="637" width="116" height="79"/><text x="58" y="649.500">Consult doctor;<tspan x="58" dy="12.2">Blood test is must</tspan><tspan x="58" dy="12.2">for repeated fever;</tspan><tspan x="58" dy="12.2">Medicine-</tspan><tspan x="58" dy="12.2">Chloroquine;</tspan><tspan x="58" dy="12.2">Primaquine</tspan></text></g>
<g id="chloramphenicol"><rect class="G" x="190" y="576" width="106" height="137"/><text x="243" y="586.300">Consult Doctor,<tspan x="243" dy="12.2">Medicine-</tspan><tspan x="243" dy="12.2">Chloramphenicol</tspan><tspan x="243" dy="12.2">/Ampicilin,</tspan><tspan x="243" dy="12.2">Eat plenty of</tspan><tspan x="243" dy="12.2">liquids, soups,</tspan><tspan x="243" dy="12.2">juices, rehydr-</tspan><tspan x="243" dy="12.2">ation drink,</tspan><tspan x="243" dy="12.2">nutritious foods;</tspan><tspan x="243" dy="12.2">to take complete</tspan><tspan x="243" dy="12.2">bed rest</tspan></text></g>
<g id="chloroquine"><rect class="G" x="68" y="563" width="75" height="64"/><text class="m" x="105.500" y="574.100">Consult<tspan x="105.500" dy="12.2">doctor;</tspan><tspan x="105.500" dy="12.2">Chloroquine</tspan><tspan x="105.500" dy="12.2">Injection at</tspan><tspan x="105.500" dy="12.2">once</tspan></text></g>
<g id="tetracycline"><rect class="G" x="318" y="593" width="64" height="64"/><text x="350" y="604.100">Consult<tspan x="350" dy="12.2">Doctor;</tspan><tspan x="350" dy="12.2">Medicine-</tspan><tspan x="350" dy="12.2">Tetracy-</tspan><tspan x="350" dy="12.2">cline</tspan></text></g>
<g id="bcg"><rect class="G" x="468" y="573" width="72" height="38"/><text class="m" x="504" y="583.300">BCG<tspan x="504" dy="12.2">Vaccination</tspan><tspan x="504" dy="12.2">at birth</tspan></text></g>
<g id="streptomycin"><rect class="G" x="443" y="624" width="82" height="67"/><text class="m" x="484" y="636.600">Consult<tspan x="484" dy="12.2">Doctor;</tspan><tspan x="484" dy="12.2">Medicines-</tspan><tspan x="484" dy="12.2">Streptomycin</tspan><tspan x="484" dy="12.2">Injection</tspan></text></g>

<g id="virus"><rect class="Y" x="910" y="412" width="64" height="27"/><text class="m" x="942" y="422.900">Virus<tspan x="942" dy="12.2">Infection</tspan></text></g>
<g id="contact"><rect class="Y" x="1492" y="515" width="93" height="78"/><text class="r" x="1538.500" y="526.500">Contact with<tspan x="1538.500" dy="12.2">infected birds</tspan><tspan x="1538.500" dy="12.2">e.g. chickens,</tspan><tspan x="1538.500" dy="12.2">Eating infected</tspan><tspan x="1538.500" dy="12.2">birds &amp; their</tspan><tspan x="1538.500" dy="12.2">Eggs etc.</tspan></text></g>
<g id="meningitisinfl"><rect class="Y" x="1852" y="486" width="160" height="43"/><text class="r" x="1932" y="498.800">Meningitis: Inflammation<tspan x="1932" dy="12.2">of the Brain &amp; Spinal</tspan><tspan x="1932" dy="12.2">Cord covering membranes</tspan></text></g>
<g id="spores"><rect class="G" x="1522" y="142" width="60" height="52"/><text class="r" x="1552" y="153.200">Spores of<tspan x="1552" dy="12.2">Bacteria:</tspan><tspan x="1552" dy="12.2">Bacillus</tspan><tspan x="1552" dy="12.2">Anthracis</tspan></text></g>
<g id="drinking"><rect class="Y" x="1204" y="725" width="111" height="114"/><text class="r" x="1259.500" y="736.500">Drinking unboiled<tspan x="1259.500" dy="12.2">milk of Infected</tspan><tspan x="1259.500" dy="12.2">Cows or Goats;</tspan><tspan x="1259.500" dy="12.2">Through scrapes</tspan><tspan x="1259.500" dy="12.2">or wounds in the</tspan><tspan x="1259.500" dy="12.2">skin of  persons</tspan><tspan x="1259.500" dy="12.2">handling sick</tspan><tspan x="1259.500" dy="12.2">cattles, goats</tspan><tspan x="1259.500" dy="12.2">or pigs</tspan></text></g>
<g id="damaged"><rect class="Y" style="stroke:#c00000" x="750" y="833" width="96" height="27"/><text class="r" x="798" y="844">Damaged or<tspan x="798" dy="12.2">Deformed Child</tspan></text></g>
<g id="mildrash"><rect class="Y" x="633" y="922" width="124" height="64"/><text class="m" x="695" y="933">Mild rash, lymph<tspan x="695" dy="12.2">nodes on the back</tspan><tspan x="695" dy="12.2">of head and neck</tspan><tspan x="695" dy="12.2">become swollen and</tspan><tspan x="695" dy="12.2">tender</tspan></text></g>
<g id="medicalhelp"><rect class="Y" style="stroke:#808000" x="72" y="879" width="130" height="67"/><text class="m" x="137" y="891.600">Get Medical Help<tspan x="137" dy="12.2">immediately,</tspan><tspan x="137" dy="12.2">Medicine- Injection</tspan><tspan x="137" dy="12.2">of Ampicilin, Aspirin,</tspan><tspan x="137" dy="12.2">Acetaminophen</tspan></text></g>
<g id="severeheadache"><rect class="Y" x="160" y="771" width="114" height="100"/><text class="m" x="217" y="782.700">Fever, severe<tspan x="217" dy="12.2">headache, Stiff</tspan><tspan x="217" dy="12.2">neck &amp; back,</tspan><tspan x="217" dy="12.2">Vomitting, very</tspan><tspan x="217" dy="12.2">sleeping, children</tspan><tspan x="217" dy="12.2">gets worse quickly</tspan><tspan x="217" dy="12.2">and may loose</tspan><tspan x="217" dy="12.2">consciousness</tspan></text></g>

<g id="links">
<text class="r" x="473" y="58" style="font-size:11px">as</text>
<text class="br" x="304" y="91.500">means</text>
<text class="br" x="288" y="110.500">has typical</text>
<text class="br" x="235" y="69.500">caused by</text>
<text class="br" x="628" y="93.500">is</text>
<text class="m" x="473" y="132.500">is due to</text>
<text class="br" x="137" y="153.500">means</text>
<text class="r" x="222" y="149.500">type of</text>
<text class="v" x="177" y="169.500">is a</text>
<text class="r" x="25" y="218.500">caused<tspan x="25" dy="12.2">by</tspan></text>
<text class="g" x="49" y="250.500">treatment</text>
<text class="g" x="157" y="243.500">treatment</text>
<text class="r" x="128" y="256.500">with</text>
<text class="m" x="236" y="237.500">symptom</text>
<text class="m" x="224" y="274.500">symptom</text>
<text class="r" x="67" y="285.500">or</text>
<text class="m" x="29" y="318.500">symptom</text>
<text class="r" x="82" y="321.500">is</text>
<text class="r" x="195" y="337.500">symptom</text>
<text class="g" x="319" y="269.500">treatment</text>
<text class="m" x="402" y="254.500">symptom</text>
<text class="m" x="459" y="264.500">symptom</text>
<text class="b" x="428" y="279.500">may come as<tspan x="431" dy="12.2">complication of</tspan></text>
<text class="g" x="432" y="321.500">treatment</text>
<text class="g" x="532" y="270.500">prevention</text>
<text class="m" x="519" y="216.500">hints</text>
<text class="m" x="569" y="249.500">begins<tspan x="568" dy="12.2">like a</tspan></text>
<text class="m" x="678" y="259.500">as</text>
<text class="m" x="722" y="266.500">with</text>
<text class="m" x="761" y="286.500">as</text>
<text class="m" x="797" y="292.500">hints</text>
<text class="m" x="887" y="255.500">with blood hints</text>
<text class="m" x="691" y="309.500">with</text>
<text class="m" x="728" y="168.500">hints</text>
<text class="m" x="807" y="208.500">hints</text>
<text class="g" x="982" y="259.500">followed by</text>
<text class="r" x="845" y="327.500">leads to</text>
<text class="sg" x="647" y="324.500">prevention</text>
<text class="r" x="627" y="374.500">symptom</text>
<text class="b" x="869" y="352.500">signs for</text>
<text class="L r" x="824" y="374">symptom</text>
<text class="r" x="922" y="386.500">caused by</text>
<text class="g" x="1013" y="415.500">prevention</text>
<text class="sg" x="540" y="465.500">treatment</text>
<text class="g" x="599" y="439.500">treatment</text>
<text class="L b" x="585" y="481">type</text>
<text class="r" x="743" y="460.500">symptom</text>
<text class="g" x="792" y="479.500">treatment</text>
<text class="r" x="821" y="446.500">type</text>
<text class="m" x="954" y="488.500">advanced<tspan x="954" dy="12.2">symptom</tspan></text>
<text class="g" x="925" y="520.500">treatment</text>
<text class="g" x="981" y="464.500">treatment</text>
<text class="m" x="902" y="548.500">early<tspan x="902" dy="12.2">symptom</tspan></text>
<text class="g" x="878" y="595.500">treatment</text>
<text class="L g" x="296" y="565">prevention</text>
<text class="v" x="378" y="563.500">caused if</text>
<text class="g" x="435" y="573.500">treatment</text>
<text class="g" x="458" y="531.500">prevented<tspan x="458" dy="12.2">by</tspan></text>
<text class="g" x="177" y="414.500">treatment</text>
<text class="g" x="140" y="439.500">treatment</text>
<text class="m" x="159" y="465.500">is</text>
<text class="g" x="154" y="674.500">prevented<tspan x="154" dy="12.2">by</tspan></text>
<text class="L g" x="304" y="760">prevented by</text>
<text class="r" x="679" y="844.500">during<tspan x="679" dy="12.2">pregnancy</tspan><tspan x="679" dy="12.2">may cause</tspan></text>
<text class="g" x="646" y="898.500">treatment</text>
<text class="r" x="578" y="909.500">symptom</text>
<text class="g" x="1263" y="177.500">prevented by</text>
<text class="g" x="1120" y="230.500">treatment</text>
<text class="g" x="1211" y="234.500">prevention</text>
<text class="m" x="1306" y="206.500">symptom</text>
<text class="g" x="1349" y="226.500">treatment</text>
<text class="br" x="1384" y="196.500">caused by</text>
<text class="br" x="1458" y="205.500">caused<tspan x="1460" dy="12.2">by</tspan></text>
<text class="br" x="1423" y="228.500">symptom</text>
<text class="g" x="1523" y="229.500">treatment</text>
<text class="m" x="1191" y="335.500">symptom</text>
<text class="m" x="1061" y="433.500">symptom</text>
<text class="g" x="1138" y="426.500">treatment</text>
<text class="g" x="1369" y="543.500">prevention</text>
<text class="g" x="1451" y="548.500">treatment</text>
<text class="m" x="1427" y="581.500">symptom</text>
<text class="br" x="1255" y="653.500">caused by</text>
<text class="b" x="1531" y="482.500">caused by</text>
<text class="r" x="1605" y="509.500">symptom</text>
<text class="g" x="1637" y="487.500">treatment</text>
<text class="r" x="1651" y="101.500">caused<tspan x="1651" dy="12.2">by entry</tspan><tspan x="1651" dy="12.2">of</tspan></text>
<text class="r" x="1772" y="102.500">has<tspan x="1772" dy="12.2">types</tspan></text>
<text class="g" x="1942" y="112.500">needs continuos<tspan x="1942" dy="12.2">treatment to avoid</tspan></text>
<text class="b" x="1613" y="227.500">through a<tspan x="1613" dy="12.2">cut causing</tspan></text>
<text class="p" x="1596" y="281.500">through<tspan x="1596" dy="12.2">breathing</tspan></text>
<text class="b" x="1739" y="210.500">on eating meat of<tspan x="1739" dy="12.2">anthrax infected</tspan><tspan x="1739" dy="12.2">cow, goat etc</tspan></text>
<text class="r" x="1835" y="225.500">symptom</text>
<text class="r" x="1904" y="242.500">symptom</text>
<text class="g" x="1864" y="270.500">treatment</text>
<text class="r" x="1662" y="290.500">symptom</text>
<text class="g" x="1718" y="266.500">treatment<tspan x="1718" dy="12.2">&amp; medicine</tspan><tspan x="1718" dy="12.2">of single</tspan><tspan x="1718" dy="12.2">dose</tspan></text>
<text class="g" x="1794" y="275.500">treatment<tspan x="1794" dy="12.2">&amp; medicine</tspan><tspan x="1794" dy="12.2">for about</tspan><tspan x="1794" dy="12.2">60 days</tspan></text>
</g>
</svg>
